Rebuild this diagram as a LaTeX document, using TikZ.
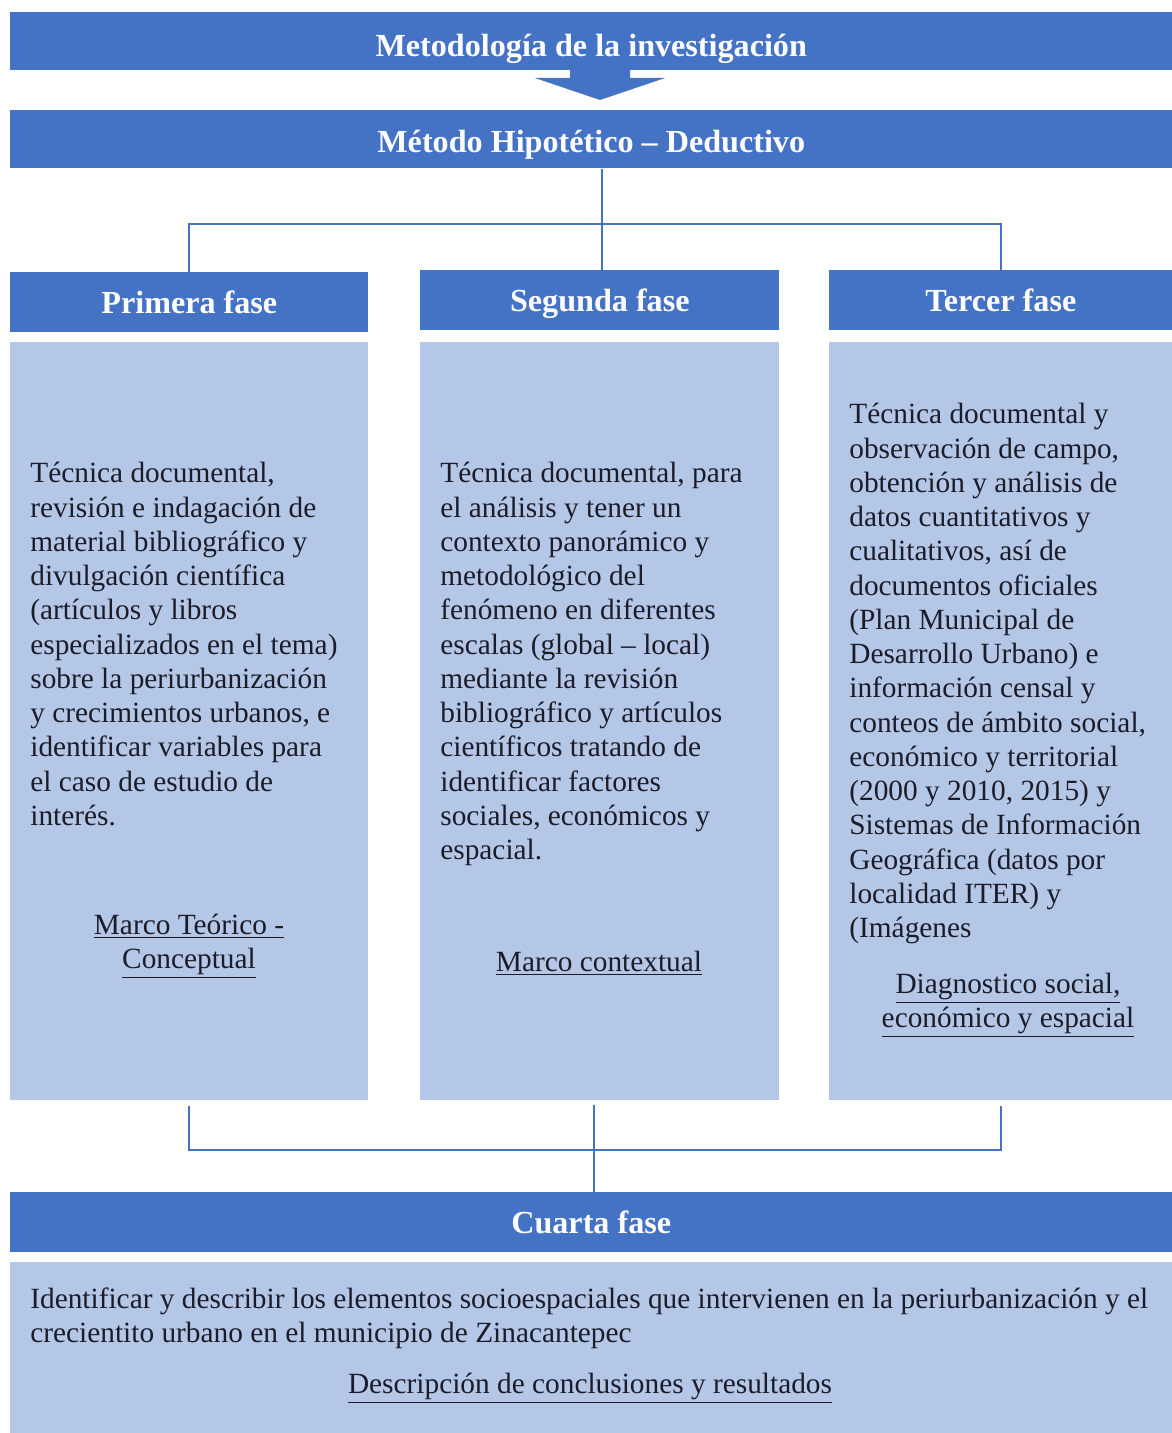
\documentclass[tikz,border=0pt]{standalone}
\usepackage{fontspec}
\setmainfont{Liberation Serif}
\usepackage{tikz}
\usetikzlibrary{positioning}
\usepackage{xcolor}
\definecolor{azul}{HTML}{4472C4}
\definecolor{celeste}{HTML}{B4C7E7}
\definecolor{tinta}{HTML}{1C1C28}

\begin{document}
\begin{tikzpicture}[x=0.02cm, y=-0.02cm,
    barra/.style={fill=azul, text=white, font=\bfseries\fontsize{18.3}{22}\selectfont, inner sep=0pt, anchor=north west, minimum height=1.2cm, text height=12.5pt, text depth=0pt},
    caja/.style={fill=celeste, inner sep=0pt, anchor=north west, minimum height=15.16cm},
    texto/.style={anchor=north west, align=left, inner sep=0pt, text=tinta, font=\fontsize{16.7}{19.5}\selectfont},
    etiqueta/.style={align=center, inner sep=0pt, text=tinta, font=\fontsize{16.7}{19.5}\selectfont},
    enlace/.style={draw=azul, line width=1.3pt}]
    \useasboundingbox (0,0) rectangle (1172,1433);

    % titulo y metodo
    \node[barra, minimum width=23.24cm, minimum height=1.16cm, text height=17.6pt] (titulo) at (10,12) {Metodología de la investigación};
    \fill[azul] (570,70) -- (630,70) -- (630,78) -- (665,78) -- (600,100) -- (535,78) -- (570,78) -- cycle;
    \node[barra, minimum width=23.24cm, minimum height=1.16cm, text height=14.5pt] (metodo) at (10,110) {Método Hipotético – Deductivo};

    % fases
    \node[barra, minimum width=7.16cm] (primera) at (10,272) {Primera fase};
    \node[barra, minimum width=7.18cm] (segunda) at (420,270) {Segunda fase};
    \node[barra, minimum width=6.86cm] (tercera) at (829,270) {Tercer fase};

    \node[caja, minimum width=7.16cm] (cuerpo1) at (10,342) {};
    \node[caja, minimum width=7.18cm] (cuerpo2) at (420,342) {};
    \node[caja, minimum width=6.86cm] (cuerpo3) at (829,342) {};

    \node[texto] (desc1) at (30,462) {Técnica documental,\\revisión e indagación de\\material bibliográfico y\\divulgación científica\\(artículos y libros\\especializados en el tema)\\sobre la periurbanización\\y crecimientos urbanos, e\\identificar variables para\\el caso de estudio de\\interés.};
    \node[etiqueta] (marco1) at (189,946) {\underline{Marco Teórico -}\\\underline{Conceptual}};

    \node[texto] (desc2) at (440,462) {Técnica documental, para\\el análisis y tener un\\contexto panorámico y\\metodológico del\\fenómeno en diferentes\\escalas (global – local)\\mediante la revisión\\bibliográfico y artículos\\científicos tratando de\\identificar factores\\sociales, económicos y\\espacial.};
    \node[etiqueta] (marco2) at (599,963) {\underline{Marco contextual}};

    \node[texto] (desc3) at (849,403) {Técnica documental y\\observación de campo,\\obtención y análisis de\\datos cuantitativos y\\cualitativos, así de\\documentos oficiales\\(Plan Municipal de\\Desarrollo Urbano) e\\información censal y\\conteos de ámbito social,\\económico y territorial\\(2000 y 2010, 2015) y\\Sistemas de Información\\Geográfica (datos por\\localidad ITER) y\\(Imágenes};
    \node[etiqueta] (marco3) at (1008,1005) {\underline{Diagnostico social,}\\\underline{económico y espacial}};

    % cuarta fase
    \node[barra, minimum width=23.24cm] (cuarta) at (10,1192) {Cuarta fase};
    \node[caja, minimum width=23.24cm, minimum height=3.42cm] (cuerpo4) at (10,1262) {};
    \node[texto] (desc4) at (30,1287) {Identificar y describir los elementos socioespaciales que intervienen en la periurbanización y el\\crecientito urbano en el municipio de Zinacantepec};
    \node[etiqueta] (marco4) at (590,1388) {\underline{Descripción de conclusiones y resultados}};

    % conectores
    \coordinate (reparto) at (602,224);
    \draw[enlace] (reparto |- metodo.south) -- (reparto |- segunda.north);
    \draw[enlace] (primera.north) |- (reparto) -| (tercera.north);

    \coordinate (union) at (594,1150);
    \coordinate (bajada) at (594,1105);
    \draw[enlace] ([yshift=-0.1cm]cuerpo1.south) |- (union) -| ([yshift=-0.1cm]cuerpo3.south);
    \draw[enlace] (bajada) -- (cuarta.north -| bajada);
\end{tikzpicture}
\end{document}
